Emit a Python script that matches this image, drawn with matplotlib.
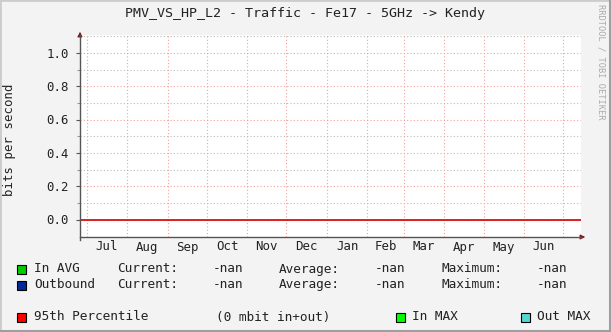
import numpy as np
import matplotlib
matplotlib.use("Agg")
import matplotlib.pyplot as plt
import matplotlib.dates as mdates
from datetime import datetime

# chart data (all traffic values unknown -> nan)
title = "PMV_VS_HP_L2 - Traffic - Fe17 - 5GHz -> Kendy"
months = ['Jul', 'Aug', 'Sep', 'Oct', 'Nov', 'Dec', 'Jan', 'Feb', 'Mar', 'Apr', 'May', 'Jun']
month_starts = [datetime(2016, 7, 1), datetime(2016, 8, 1), datetime(2016, 9, 1), datetime(2016, 10, 1),
                datetime(2016, 11, 1), datetime(2016, 12, 1), datetime(2017, 1, 1), datetime(2017, 2, 1),
                datetime(2017, 3, 1), datetime(2017, 4, 1), datetime(2017, 5, 1), datetime(2017, 6, 1),
                datetime(2017, 7, 1)]
in_avg = [np.nan] * 13
out_avg = [np.nan] * 13
percentile_95 = 0.0
y_ticks = [0.0, 0.2, 0.4, 0.6, 0.8, 1.0]
y_minor = [0.1, 0.3, 0.5, 0.7, 0.9, 1.1]

legend_rows = [
    ("In AVG", "#00CC00", "-nan", "-nan", "-nan"),
    ("Outbound", "#002A97", "-nan", "-nan", "-nan"),
]

BG = "#F3F3F3"
MONO = "DejaVu Sans Mono"
W, H = 611, 332

fig = plt.figure(figsize=(W / 100, H / 100), dpi=100, facecolor=BG)

# plot area in pixels: x 80..581, y 35..237
ax = fig.add_axes([80 / W, (H - 237) / H, 501 / W, 202 / H])
ax.set_facecolor("white")

xmin = mdates.date2num(datetime(2016, 6, 26)) - 0.1
xmax = mdates.date2num(datetime(2017, 7, 14)) + 0.6
ymin, ymax = -0.105, 1.107
ax.set_xlim(xmin, xmax)
ax.set_ylim(ymin, ymax)

# grid
for y in y_minor:
    ax.axhline(y, color="#BBBBBB", lw=0.8, ls=(0, (1, 2)), zorder=1)
for y in y_ticks:
    ax.axhline(y, color="#F4A0A0", lw=0.8, ls=(0, (1, 2)), zorder=1)
for d in month_starts:
    ax.axvline(mdates.date2num(d), color="#F4A0A0", lw=0.8, ls=(0, (1, 2)), zorder=1)

ax.plot(month_starts, in_avg, color="#00CC00")
ax.plot(month_starts, out_avg, color="#002A97")
ax.axhline(percentile_95, color="#D40000", lw=1.2, zorder=3)

for s in ax.spines.values():
    s.set_visible(False)

# axes lines with arrows
dy = (ymax - ymin) / 202
ax.plot([xmin, xmax], [ymin, ymin], color="#555555", lw=1, clip_on=False, zorder=4)
ax.plot([xmin, xmin], [ymin - 3 * dy, ymax], color="#555555", lw=1, clip_on=False, zorder=4)
ax.annotate("", xy=(588 / W, (H - 237) / H), xytext=(578 / W, (H - 237) / H), xycoords="figure fraction",
            arrowprops=dict(arrowstyle="-|>", color="#7A1A1A", lw=0.8, mutation_scale=7))
ax.annotate("", xy=(80 / W, (H - 29) / H), xytext=(80 / W, (H - 39) / H), xycoords="figure fraction",
            arrowprops=dict(arrowstyle="-|>", color="#7A1A1A", lw=0.8, mutation_scale=7))

ax.set_yticks(y_ticks)
ax.set_yticks(y_minor, minor=True)
ax.set_yticklabels([f"{v:.1f}" for v in y_ticks], family=MONO, fontsize=8.9, color="#222222")
ax.tick_params(axis="y", which="major", length=3, width=0.8, color="#555555", pad=5)
ax.tick_params(axis="y", which="minor", length=2, width=0.8, color="#999999")

ax.set_xticks([])
mids = [mdates.date2num(month_starts[i]) + (mdates.date2num(month_starts[i + 1]) - mdates.date2num(month_starts[i])) / 2
        for i in range(len(months))]
for m, lab in zip(mids, months):
    ax.text(m, ymin - 10 * dy, lab, ha="center", va="center", family=MONO, fontsize=8.9, color="#222222")

fig.text(10 / W, 1 - 140 / H, "bits per second", rotation=90, ha="center", va="center",
         family=MONO, fontsize=8.9, color="#222222")

fig.text(305 / W, 1 - 14 / H, title, ha="center", va="center", family=MONO, fontsize=9.6, color="#222222")
fig.text(601 / W, 1 - 62 / H, "RRDTOOL / TOBI OETIKER", rotation=270, ha="center", va="center",
         family=MONO, fontsize=6.2, color="#AAAAAA")


def swatch(x, y, color):
    fig.patches.append(plt.Rectangle((x / W, 1 - (y + 5) / H), 9 / W, 9 / H, transform=fig.transFigure,
                                     facecolor=color, edgecolor="black", lw=0.8))


def label(x, y, s):
    fig.text(x / W, 1 - y / H, s, ha="left", va="center", family=MONO, fontsize=9.2, color="#222222")


for i, (name, color, cur, avg, mx) in enumerate(legend_rows):
    y = 269 + i * 15.5
    swatch(17, y, color)
    label(34, y, name)
    label(117, y, "Current:")
    label(213, y, cur)
    label(279, y, "Average:")
    label(375, y, avg)
    label(441, y, "Maximum:")
    label(537, y, mx)

y = 317
swatch(17, y, "#FF0000")
label(34, y, "95th Percentile")
label(216, y, "(0 mbit in+out)")
swatch(396, y, "#00FF00")
label(412, y, "In MAX")
swatch(521, y, "#55D6D3")
label(537, y, "Out MAX")

# 3d-ish border of the image
fig.patches.append(plt.Rectangle((0, 0), 1, 1, transform=fig.transFigure, fill=False, edgecolor="#CCCCCC", lw=2))
fig.lines.append(plt.Line2D([0, 1], [1.5 / H, 1.5 / H], transform=fig.transFigure, color="#9E9E9E", lw=2.2))
fig.lines.append(plt.Line2D([1 - 1.5 / W, 1 - 1.5 / W], [0, 1], transform=fig.transFigure, color="#9E9E9E", lw=2.2))

fig.savefig("out.png", dpi=100, facecolor=BG)
